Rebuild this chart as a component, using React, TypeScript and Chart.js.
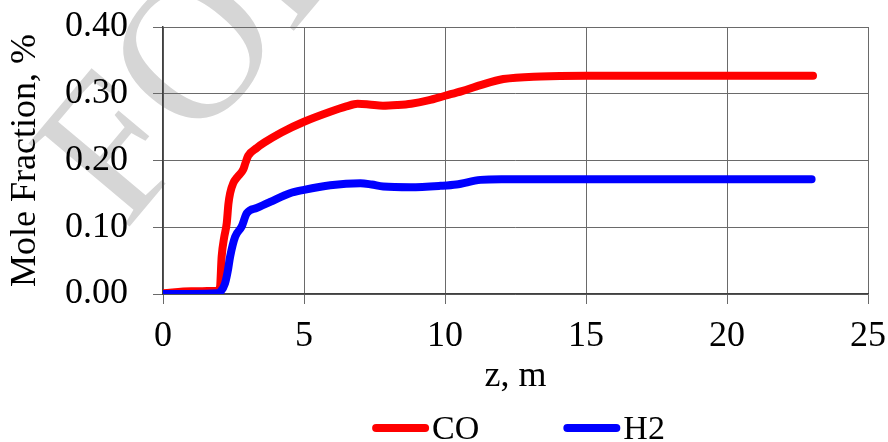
import { useEffect, useRef } from "react";
import { Chart, registerables } from "chart.js";

Chart.register(...registerables);

// ---- data ----
const zCO = [0, 1, 1.9, 2.02, 2.08, 2.17, 2.26, 2.32, 2.38, 2.49, 2.65, 2.84, 2.93, 3.02, 3.33, 3.6, 4.2, 5, 5.93, 6.5, 6.9, 7.3, 7.8, 8.3, 8.8, 9.4, 10, 10.6, 11.26, 12.07, 13.4, 15, 18, 23.05];
const moleCO = [0.001, 0.004, 0.005, 0.01, 0.056, 0.085, 0.106, 0.135, 0.151, 0.166, 0.176, 0.186, 0.197, 0.207, 0.219, 0.227, 0.242, 0.258, 0.273, 0.281, 0.285, 0.284, 0.282, 0.283, 0.285, 0.29, 0.297, 0.304, 0.313, 0.322, 0.326, 0.327, 0.327, 0.327];

const zH2 = [0, 1, 1.92, 2.05, 2.2, 2.3, 2.38, 2.56, 2.79, 2.97, 3.33, 3.8, 4.5, 5, 5.93, 7, 7.4, 7.81, 8.77, 9.84, 10.4, 11.26, 12.0, 12.8, 15, 18, 23.0];
const moleH2 = [0.0, 0.0, 0.001, 0.004, 0.016, 0.035, 0.056, 0.086, 0.101, 0.121, 0.129, 0.138, 0.151, 0.156, 0.163, 0.166, 0.164, 0.161, 0.16, 0.162, 0.164, 0.171, 0.172, 0.172, 0.172, 0.172, 0.172];

const seriesNames = ["CO", "H2"];
const seriesColors = ["#ff0000", "#0000ff"];
const xTitle = "z, m";
const yTitle = "Mole Fraction, %";
const watermarkText = "FOR REVIEW";

const FONT = "'Liberation Serif', 'Times New Roman', serif";

const watermarkPlugin = {
  id: "watermark",
  beforeDraw(chart: any) {
    const ctx = chart.ctx;
    ctx.save();
    ctx.translate(125, 232);
    ctx.rotate((-50 * Math.PI) / 180);
    ctx.font = `200px ${FONT}`;
    ctx.fillStyle = "#d6d6d6";
    ctx.textBaseline = "alphabetic";
    ctx.textAlign = "left";
    ctx.fillText(watermarkText, 0, 0);
    ctx.restore();
  },
};

const legendPlugin = {
  id: "customLegend",
  afterDraw(chart: any) {
    const ctx = chart.ctx;
    const area = chart.chartArea;
    ctx.save();
    ctx.font = `34px ${FONT}`;
    ctx.textBaseline = "alphabetic";
    ctx.textAlign = "left";
    const lineLen = 57;
    const gap = 3;
    const itemGap = 84;
    const widths = seriesNames.map((n) => lineLen + gap + ctx.measureText(n).width);
    const total = widths.reduce((a, b) => a + b, 0) + itemGap * (seriesNames.length - 1);
    let x = (area.left + area.right) / 2 + 3 - total / 2;
    const yLine = 428;
    const yText = 439;
    seriesNames.forEach((name, i) => {
      ctx.strokeStyle = seriesColors[i];
      ctx.lineWidth = 8;
      ctx.lineCap = "round";
      ctx.beginPath();
      ctx.moveTo(x + 4, yLine);
      ctx.lineTo(x + lineLen - 4, yLine);
      ctx.stroke();
      ctx.fillStyle = "#000";
      ctx.fillText(name, x + lineLen + gap, yText);
      x += widths[i] + itemGap;
    });
    ctx.restore();
  },
};

export default function App() {
  const ref = useRef<HTMLCanvasElement | null>(null);

  useEffect(() => {
    if (!ref.current) return;
    Chart.defaults.font.family = FONT;
    Chart.defaults.color = "#000";
    const chart = new Chart(ref.current, {
      type: "line",
      data: {
        datasets: [
          {
            label: seriesNames[0],
            data: zCO.map((z, i) => ({ x: z, y: moleCO[i] })),
            borderColor: seriesColors[0],
            backgroundColor: seriesColors[0],
            borderWidth: 8,
            pointRadius: 0,
            cubicInterpolationMode: "monotone",
            borderCapStyle: "round",
            borderJoinStyle: "round",
            order: 1,
          },
          {
            label: seriesNames[1],
            data: zH2.map((z, i) => ({ x: z, y: moleH2[i] })),
            borderColor: seriesColors[1],
            backgroundColor: seriesColors[1],
            borderWidth: 8,
            pointRadius: 0,
            cubicInterpolationMode: "monotone",
            borderCapStyle: "round",
            borderJoinStyle: "round",
            order: 0,
          },
        ],
      },
      options: {
        responsive: false,
        animation: false,
        layout: { padding: { top: 27, right: 20, bottom: 44, left: 0 } },
        plugins: {
          legend: { display: false },
          tooltip: { enabled: false },
        },
        scales: {
          x: {
            type: "linear",
            min: 0,
            max: 25,
            ticks: { stepSize: 5, font: { size: 36 }, padding: 11, color: "#000" },
            grid: { color: "#6a6a6a", lineWidth: 1, tickLength: 10, drawTicks: true },
            border: { color: "#404040", width: 1.5 },
            title: { display: true, text: xTitle, font: { size: 36 }, padding: { top: 0, bottom: 0 }, color: "#000" },
            afterFit(scale: any) {
              scale.height = 104;
              scale.paddingLeft = 0;
              scale.paddingRight = 0;
            },
          },
          y: {
            type: "linear",
            min: 0,
            max: 0.4,
            ticks: {
              stepSize: 0.1,
              font: { size: 36 },
              padding: 25,
              color: "#000",
              callback: (v: any) => Number(v).toFixed(2),
            },
            grid: { color: "#6a6a6a", lineWidth: 1, tickLength: 10, drawTicks: true },
            border: { color: "#404040", width: 1.5 },
            title: { display: true, text: yTitle, font: { size: 36 }, padding: { top: 4, bottom: 0 }, color: "#000" },
            afterFit(scale: any) {
              scale.width = 163;
              scale.paddingTop = 0;
              scale.paddingBottom = 0;
            },
          },
        },
      },
      plugins: [watermarkPlugin, legendPlugin],
    } as any);
    return () => chart.destroy();
  }, []);

  return (
    <div style={{ position: "fixed", left: 0, top: 0, width: 888, height: 442, background: "#fff" }}>
      <canvas ref={ref} width={888} height={442} style={{ display: "block" }} />
    </div>
  );
}
